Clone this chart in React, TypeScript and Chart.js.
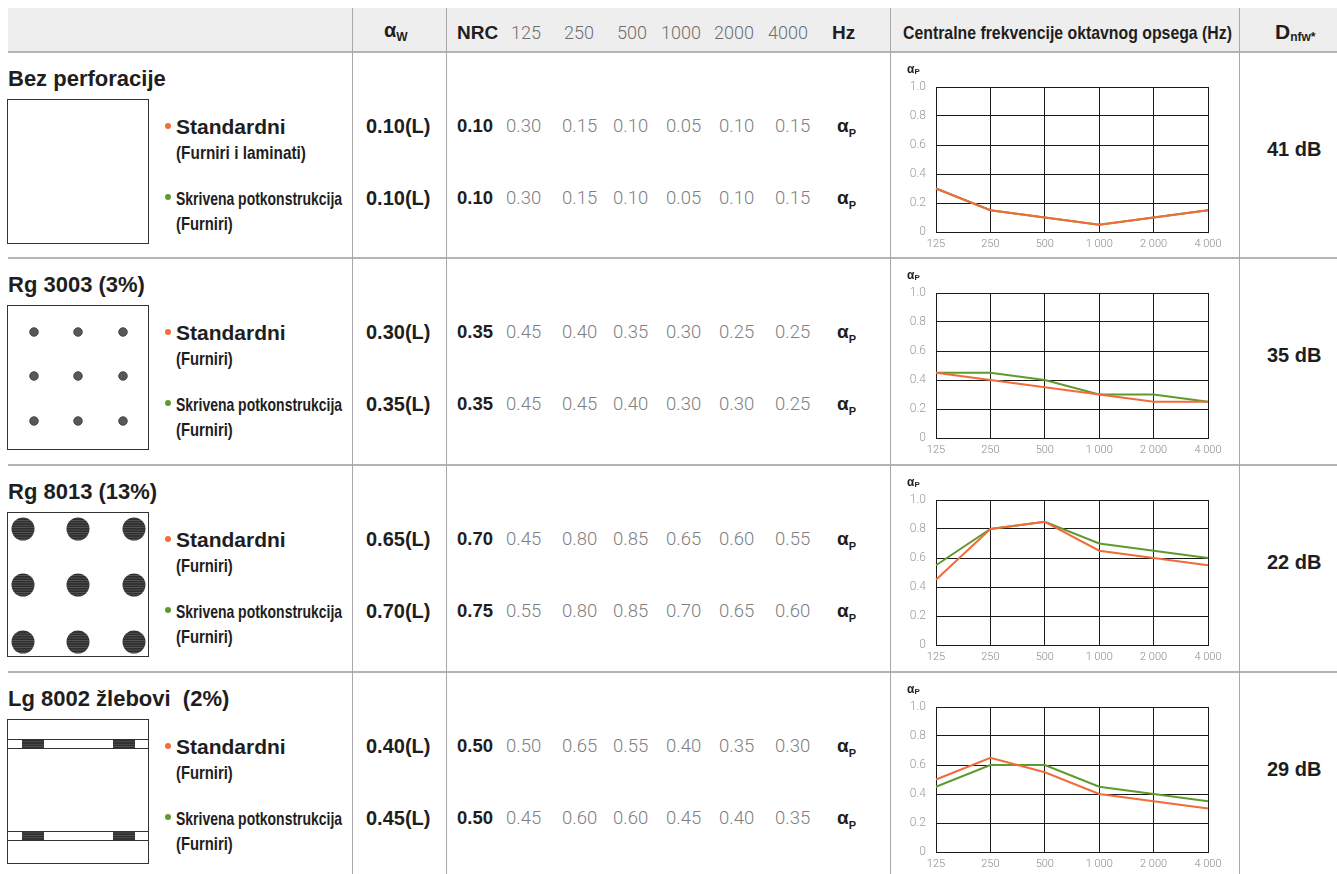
import React, { useEffect, useRef } from 'react';
import { Chart, registerables } from 'chart.js';

Chart.register(...registerables);

// ---------- DATA ----------
const frequencies = ['125', '250', '500', '1 000', '2 000', '4 000'];
const headerFrequencies = ['125', '250', '500', '1000', '2000', '4000'];
const yTickValues = [0, 0.2, 0.4, 0.6, 0.8, 1.0];

const panelNames = ['Bez perforacije', 'Rg 3003 (3%)', 'Rg 8013 (13%)', 'Lg 8002 žlebovi  (2%)'];
const standardSubtitles = ['(Furniri i laminati)', '(Furniri)', '(Furniri)', '(Furniri)'];
const hiddenSubtitles = ['(Furniri)', '(Furniri)', '(Furniri)', '(Furniri)'];

const alphaWStandard = ['0.10(L)', '0.30(L)', '0.65(L)', '0.40(L)'];
const alphaWHidden = ['0.10(L)', '0.35(L)', '0.70(L)', '0.45(L)'];
const nrcStandard = ['0.10', '0.35', '0.70', '0.50'];
const nrcHidden = ['0.10', '0.35', '0.75', '0.50'];

const bezStandard = [0.30, 0.15, 0.10, 0.05, 0.10, 0.15];
const bezHidden = [0.30, 0.15, 0.10, 0.05, 0.10, 0.15];
const rg3003Standard = [0.45, 0.40, 0.35, 0.30, 0.25, 0.25];
const rg3003Hidden = [0.45, 0.45, 0.40, 0.30, 0.30, 0.25];
const rg8013Standard = [0.45, 0.80, 0.85, 0.65, 0.60, 0.55];
const rg8013Hidden = [0.55, 0.80, 0.85, 0.70, 0.65, 0.60];
const lg8002Standard = [0.50, 0.65, 0.55, 0.40, 0.35, 0.30];
const lg8002Hidden = [0.45, 0.60, 0.60, 0.45, 0.40, 0.35];

const standardSeries = [bezStandard, rg3003Standard, rg8013Standard, lg8002Standard];
const hiddenSeries = [bezHidden, rg3003Hidden, rg8013Hidden, lg8002Hidden];

const dnfwValues = ['41 dB', '35 dB', '22 dB', '29 dB'];

// ---------- STYLE ----------
const ORANGE = '#f26b3a';
const GREEN = '#5f9a2e';
const SANS = '"Liberation Sans", Arial, Helvetica, sans-serif';
const LIGHT = 'Roboto, "Liberation Sans", sans-serif';
const LINE = '#a8a8a8';
const ROW_TOPS = [52, 258, 465, 672];
const VALUE_X = [506, 562, 613, 666, 719, 775];
const HEADER_FREQ_X = [511, 564, 617, 661, 714, 768];

type TxtProps = {
  x: number; cy: number; size: number; weight?: number; color?: string;
  family?: string; scale?: number; children: React.ReactNode;
};

function Txt({ x, cy, size, weight = 700, color = '#1e1e1e', family = SANS, scale, children }: TxtProps) {
  const lh = Math.round(size * 1.3);
  return (
    <div
      style={{
        position: 'absolute', left: x, top: cy - lh / 2, height: lh, lineHeight: lh + 'px',
        fontSize: size, fontWeight: weight, color, fontFamily: family, whiteSpace: 'pre',
        transform: scale ? `scaleX(${scale})` : undefined, transformOrigin: 'left center',
      }}
    >
      {children}
    </div>
  );
}

function AlphaP({ x, cy, size }: { x: number; cy: number; size: number }) {
  return (
    <div style={{ position: 'absolute', left: x, top: cy - size * 0.7, fontFamily: SANS, fontWeight: 700, color: '#1e1e1e', fontSize: size, lineHeight: 1, whiteSpace: 'nowrap' }}>
      α<span style={{ fontSize: size * 0.58, position: 'relative', top: size * 0.3 }}>P</span>
    </div>
  );
}

function AlphaChart({ top, std, hid }: { top: number; std: number[]; hid: number[] }) {
  const ref = useRef<HTMLCanvasElement>(null);
  useEffect(() => {
    const chart = new Chart(ref.current as HTMLCanvasElement, {
      type: 'line',
      data: {
        labels: frequencies,
        datasets: [
          { label: 'Standardni', data: std, borderColor: ORANGE, borderWidth: 2, pointRadius: 0, tension: 0, fill: false },
          { label: 'Skrivena potkonstrukcija', data: hid, borderColor: GREEN, borderWidth: 2, pointRadius: 0, tension: 0, fill: false },
        ],
      },
      options: {
        responsive: false,
        animation: false,
        events: [],
        layout: { padding: { left: 0, right: 31, top: 35, bottom: 0 } },
        plugins: { legend: { display: false }, tooltip: { enabled: false }, title: { display: false } },
        scales: {
          x: {
            type: 'category',
            offset: false,
            grid: { color: '#1a1a1a', lineWidth: 1, drawTicks: false },
            border: { color: '#1a1a1a', width: 1 },
            ticks: {
              color: '#8a8a8a', padding: 6, maxRotation: 0, minRotation: 0, autoSkip: false,
              font: { family: LIGHT, weight: 300, size: 11 },
            },
            afterFit: (s: any) => { s.height = 20; },
          },
          y: {
            min: 0, max: 1,
            grid: { color: '#1a1a1a', lineWidth: 1, drawTicks: false },
            border: { color: '#1a1a1a', width: 1 },
            afterBuildTicks: (s: any) => { s.ticks = yTickValues.map((v) => ({ value: v })); },
            ticks: {
              color: '#9a9a9a', padding: 10,
              font: { family: LIGHT, weight: 300, size: 12 },
              callback: (v: any) => (Number(v) === 0 ? '0' : Number(v).toFixed(1)),
            },
            afterFit: (s: any) => { s.width = 46; },
          },
        },
      },
    } as any);
    return () => chart.destroy();
  }, [std, hid]);
  return (
    <canvas
      ref={ref}
      width={349}
      height={200}
      style={{ position: 'absolute', left: 890, top, width: 349, height: 200 }}
    />
  );
}

function Panel({ kind, top }: { kind: number; top: number }) {
  const w = 142, h = 145;
  const circles: React.ReactNode[] = [];
  if (kind === 1) {
    [27, 71, 116].forEach((cy) =>
      [27, 71, 116].forEach((cx) =>
        circles.push(<circle key={cx + '-' + cy} cx={cx} cy={cy} r={4.3} fill="#585858" stroke="#333" strokeWidth={0.8} />)));
  }
  if (kind === 2) {
    [17, 73, 130].forEach((cy) =>
      [16, 71, 127].forEach((cx) =>
        circles.push(<circle key={cx + '-' + cy} cx={cx} cy={cy} r={11.5} fill="url(#stripes)" />)));
  }
  const grooves: React.ReactNode[] = [];
  if (kind === 3) {
    [20, 112].forEach((y) => {
      grooves.push(<line key={'a' + y} x1={0} x2={w} y1={y + 0.5} y2={y + 0.5} stroke="#333" strokeWidth={1} />);
      grooves.push(<line key={'b' + y} x1={0} x2={w} y1={y + 9.5} y2={y + 9.5} stroke="#333" strokeWidth={1} />);
      [15, 106].forEach((x) =>
        grooves.push(<rect key={'r' + y + x} x={x} y={y + 1} width={22} height={8} fill="url(#stripes)" />));
    });
  }
  return (
    <svg width={w} height={h} style={{ position: 'absolute', left: 7, top }}>
      <defs>
        <pattern id="stripes" width={6} height={2.4} patternUnits="userSpaceOnUse">
          <rect width={6} height={2.4} fill="#2e2e2e" />
          <line x1={0} x2={6} y1={1.2} y2={1.2} stroke="#7a7a7a" strokeWidth={0.5} />
        </pattern>
        <clipPath id={'clip' + kind}>
          <rect x={0} y={0} width={w} height={h} />
        </clipPath>
      </defs>
      <g clipPath={`url(#clip${kind})`}>
        {circles}
        {grooves}
      </g>
      <rect x={0.5} y={0.5} width={w - 1} height={h - 1} fill="none" stroke="#333" strokeWidth={1} />
    </svg>
  );
}

function Dot({ x, cy, color }: { x: number; cy: number; color: string }) {
  return <div style={{ position: 'absolute', left: x - 3, top: cy - 3, width: 6, height: 6, borderRadius: 3, background: color }} />;
}

function Row({ i }: { i: number }) {
  const T = ROW_TOPS[i];
  return (
    <>
      <Txt x={8} cy={T + 26} size={22}>{panelNames[i]}</Txt>
      <Panel kind={i} top={T + 47} />
      <Dot x={168} cy={T + 74} color={ORANGE} />
      <Txt x={176} cy={T + 74} size={21}>Standardni</Txt>
      <Txt x={176} cy={T + 100} size={19} scale={i === 0 ? 0.81 : 0.78}>{standardSubtitles[i]}</Txt>
      <Dot x={168} cy={T + 145} color={GREEN} />
      <Txt x={176} cy={T + 146} size={19} scale={0.735}>Skrivena potkonstrukcija</Txt>
      <Txt x={176} cy={T + 171} size={19} scale={0.78}>{hiddenSubtitles[i]}</Txt>

      <Txt x={366} cy={T + 74} size={20}>{alphaWStandard[i]}</Txt>
      <Txt x={366} cy={T + 146} size={20}>{alphaWHidden[i]}</Txt>

      <Txt x={457} cy={T + 74} size={18.5}>{nrcStandard[i]}</Txt>
      {standardSeries[i].map((v, k) => (
        <Txt key={'s' + k} x={VALUE_X[k]} cy={T + 74} size={18.5} weight={300} family={LIGHT} color="#808080">{v.toFixed(2)}</Txt>
      ))}
      <AlphaP x={837} cy={T + 77} size={19} />

      <Txt x={457} cy={T + 146} size={18.5}>{nrcHidden[i]}</Txt>
      {hiddenSeries[i].map((v, k) => (
        <Txt key={'h' + k} x={VALUE_X[k]} cy={T + 146} size={18.5} weight={300} family={LIGHT} color="#808080">{v.toFixed(2)}</Txt>
      ))}
      <AlphaP x={837} cy={T + 149} size={19} />

      <AlphaChart top={T} std={standardSeries[i]} hid={hiddenSeries[i]} />
      <div style={{ position: 'absolute', left: 907, top: T + 11, fontFamily: SANS, fontWeight: 700, fontSize: 12, lineHeight: 1, color: '#1e1e1e' }}>
        α<span style={{ fontSize: 8, position: 'relative', top: 1 }}>P</span>
      </div>

      <Txt x={1267} cy={T + 97} size={20}>{dnfwValues[i]}</Txt>
    </>
  );
}

export default function App() {
  return (
    <div style={{ position: 'absolute', left: 0, top: 0, width: 1337, height: 874, background: '#fff', overflow: 'hidden' }}>
      {/* header band */}
      <div style={{ position: 'absolute', left: 8, top: 8, width: 1329, height: 44, background: '#eeeeee' }} />
      {/* horizontal lines */}
      {ROW_TOPS.map((y) => (
        <div key={'h' + y} style={{ position: 'absolute', left: 8, top: y - 1, width: 1329, height: 2, background: '#b4b4b4' }} />
      ))}
      {/* vertical lines */}
      {[352, 446, 890, 1239].map((x) => (
        <div key={'v' + x} style={{ position: 'absolute', left: x - 0.5, top: 8, width: 1, height: 866, background: LINE }} />
      ))}

      {/* header texts */}
      <div style={{ position: 'absolute', left: 384, top: 20, fontFamily: SANS, fontWeight: 700, fontSize: 20, lineHeight: 1, color: '#1e1e1e' }}>
        α<span style={{ fontSize: 12, position: 'relative', top: 4 }}>W</span>
      </div>
      <Txt x={457} cy={32} size={19}>NRC</Txt>
      {headerFrequencies.map((f, k) => (
        <Txt key={'hf' + k} x={HEADER_FREQ_X[k]} cy={32} size={18} weight={300} family={LIGHT} color="#6f6f6f">{f}</Txt>
      ))}
      <Txt x={832} cy={32} size={19}>Hz</Txt>
      <Txt x={903} cy={32} size={19} scale={0.833}>Centralne frekvencije oktavnog opsega (Hz)</Txt>
      <div style={{ position: 'absolute', left: 1275, top: 21, fontFamily: SANS, fontWeight: 700, fontSize: 21, lineHeight: 1, color: '#1e1e1e', whiteSpace: 'nowrap' }}>
        D<span style={{ fontSize: 12, position: 'relative', top: 2 }}>nfw*</span>
      </div>

      {ROW_TOPS.map((_, i) => <Row key={i} i={i} />)}
    </div>
  );
}
